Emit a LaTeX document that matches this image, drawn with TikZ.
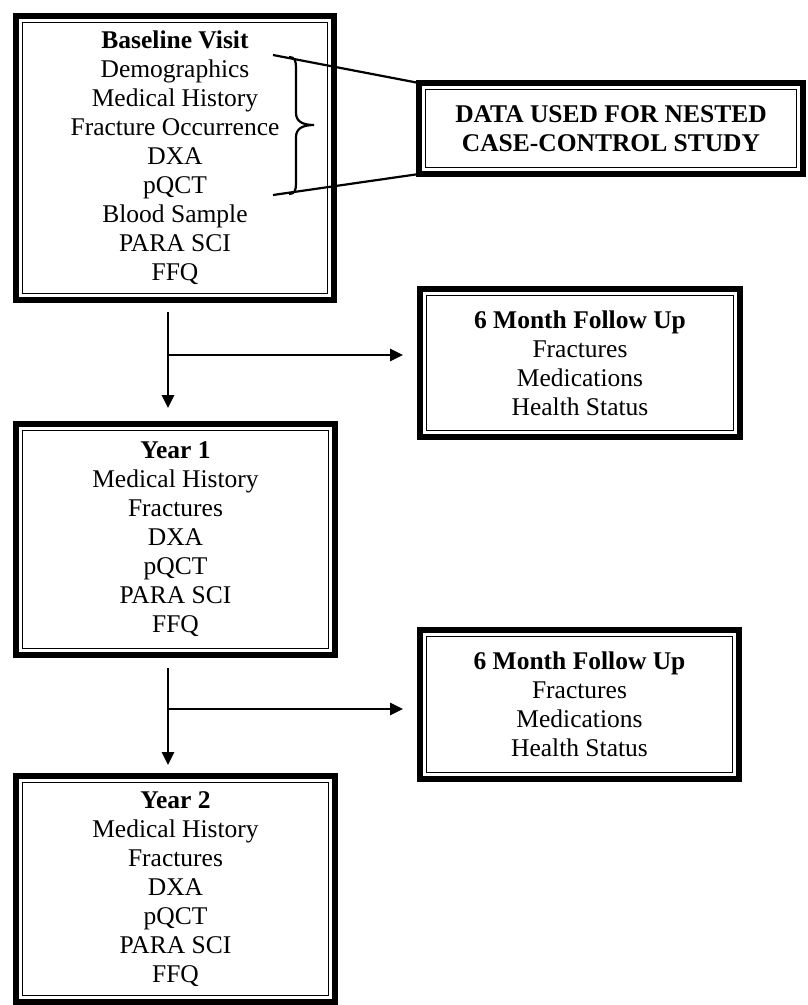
\documentclass[tikz,border=0pt]{standalone}
\usepackage{fontspec}
\setmainfont{Liberation Serif}
\usetikzlibrary{arrows.meta}

\begin{document}
\begin{tikzpicture}[x=1pt, y=-1pt,
    every node/.style={font=\fontsize{25.5}{29}\selectfont, align=center},
    visit/.style={draw, line width=6pt, outer sep=0pt, inner sep=0pt},
    inner frame/.style={line width=1.5pt},
    link/.style={line width=2.2pt},
    flow/.style={line width=2.8pt, -{Triangle[length=13pt,width=12pt]}}]
  \useasboundingbox (0,0) rectangle (807,1005);
  % Baseline visit
  \node (base) [visit, minimum width=318pt, minimum height=284pt] at (175,158)
    {\textbf{Baseline Visit}\\Demographics\\Medical History\\Fracture Occurrence\\DXA\\pQCT\\Blood Sample\\PARA SCI\\FFQ};
  % Nested study
  \node (data) [visit, minimum width=384pt, minimum height=91pt] at (611,128.5)
    {\textbf{DATA USED FOR NESTED}\\\textbf{CASE-CONTROL STUDY}};
  % First follow up
  \node (fu1) [visit, minimum width=320pt, minimum height=148pt] at (580,363)
    {\textbf{6 Month Follow Up}\\Fractures\\Medications\\Health Status};
  % Year 1
  \node (yr1) [visit, minimum width=319pt, minimum height=231pt] at (175.5,539.5)
    {\textbf{Year 1}\\Medical History\\Fractures\\DXA\\pQCT\\PARA SCI\\FFQ};
  % Second follow up
  \node (fu2) [visit, minimum width=319pt, minimum height=149pt] at (579.5,704.5)
    {\textbf{6 Month Follow Up}\\Fractures\\Medications\\Health Status};
  % Year 2
  \node (yr2) [visit, minimum width=319pt, minimum height=226pt] at (175.5,889)
    {\textbf{Year 2}\\Medical History\\Fractures\\DXA\\pQCT\\PARA SCI\\FFQ};
  % thin inner frames
  \foreach \n in {base,data,fu1,yr1,fu2,yr2}
    \draw[inner frame] ([shift={(6.5,6.5)}]\n.north west) rectangle ([shift={(-6.5,-6.5)}]\n.south east);

  % Brace
  \draw[link] (289,57) .. controls (295,57) and (296,61) .. (296,68) -- (296,113)
    .. controls (296,121) and (302,125) .. (314,125)
    .. controls (302,125) and (296,129) .. (296,137) -- (296,183)
    .. controls (296,190) and (295,194) .. (289,194);
  \coordinate (bt) at (273,55);
  \coordinate (bb) at (273,195);
  \draw[link] (bt) -- (data.north west);
  \draw[link] (bb) -- (data.south west);

  % Arrows
  \coordinate (j1) at (168,355);
  \coordinate (j2) at (168,709);
  \draw[flow, shorten <=12pt, shorten >=16pt] (base.south -| j1) -- (yr1.north -| j1);
  \draw[flow, shorten >=17pt] (j1) -- (j1 -| fu1.west);
  \draw[flow, shorten <=13pt, shorten >=11pt] (yr1.south -| j2) -- (yr2.north -| j2);
  \draw[flow, shorten >=17pt] (j2) -- (j2 -| fu2.west);
\end{tikzpicture}
\end{document}
